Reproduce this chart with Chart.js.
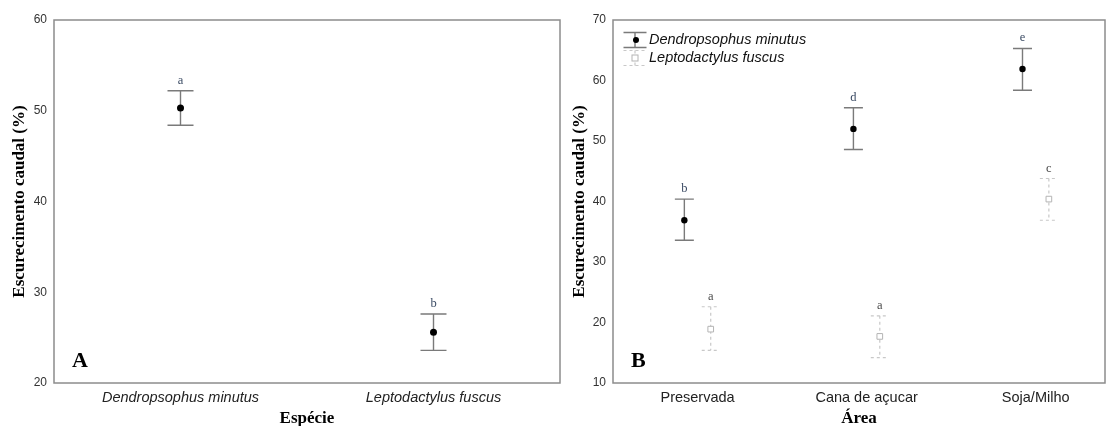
<!DOCTYPE html>
<html>
<head>
<meta charset="utf-8">
<script src="https://cdn.jsdelivr.net/npm/chart.js@4.4.1/dist/chart.umd.min.js"></script>
<style>
  html, body { margin: 0; padding: 0; background: #fff; }
  #wrap { position: relative; width: 1110px; height: 426px; overflow: hidden; }
  #chartA { position: absolute; left: 0; top: 0; }
  #chartB { position: absolute; left: 560px; top: 0; }
</style>
</head>
<body>
<div id="wrap">
  <canvas id="chartA" width="564" height="426"></canvas>
  <canvas id="chartB" width="550" height="426"></canvas>
</div>
<script>
const SANS = '"Liberation Sans", Arial, sans-serif';
const SERIF = '"Liberation Serif", "Times New Roman", serif';

// painel A - por espécie
const especies = ['Dendropsophus minutus', 'Leptodactylus fuscus'];
const especieMedia = [50.3, 25.6];
const especieSup = [52.2, 27.6];
const especieInf = [48.4, 23.6];
const especieLetras = ['a', 'b'];
const ticksA = [20, 30, 40, 50, 60];

// painel B - por área
const areas = ['Preservada', 'Cana de açucar', 'Soja/Milho'];
const minutusMedia = [36.9, 52.0, 61.9];
const minutusSup = [40.4, 55.5, 65.3];
const minutusInf = [33.6, 48.6, 58.4];
const minutusLetras = ['b', 'd', 'e'];
const fuscusMedia = [18.9, 17.7, 40.4];
const fuscusSup = [22.6, 21.1, 43.8];
const fuscusInf = [15.4, 14.2, 36.9];
const fuscusLetras = ['a', 'a', 'c'];
const ticksB = [10, 20, 30, 40, 50, 60, 70];

const DESLOC = 0.078; // deslocamento lateral das duas espécies no painel B

// barras de erro, letras, moldura e legenda
const barrasPlugin = {
  id: 'barras',
  beforeDatasetsDraw(chart) {
    const ctx = chart.ctx;
    const y = chart.scales.y;
    chart.data.datasets.forEach((ds, i) => {
      const meta = chart.getDatasetMeta(i);
      ctx.save();
      ctx.strokeStyle = ds.barColor;
      ctx.lineWidth = ds.barWidth;
      ctx.setLineDash(ds.barDash || []);
      meta.data.forEach((pt, j) => {
        const yTop = y.getPixelForValue(ds.upper[j]);
        const yBot = y.getPixelForValue(ds.lower[j]);
        ctx.beginPath();
        ctx.moveTo(pt.x, yTop); ctx.lineTo(pt.x, yBot);
        ctx.moveTo(pt.x - ds.cap, yTop); ctx.lineTo(pt.x + ds.cap, yTop);
        ctx.moveTo(pt.x - ds.cap, yBot); ctx.lineTo(pt.x + ds.cap, yBot);
        ctx.stroke();
      });
      ctx.restore();

      ctx.save();
      ctx.font = '12.5px ' + SERIF;
      ctx.fillStyle = ds.letterColor;
      ctx.textAlign = 'center';
      ctx.textBaseline = 'alphabetic';
      meta.data.forEach((pt, j) => {
        ctx.fillText(ds.letters[j], pt.x, y.getPixelForValue(ds.upper[j]) - 7);
      });
      ctx.restore();
    });
  },
  afterDraw(chart, args, opts) {
    const { ctx, chartArea: a } = chart;
    ctx.save();
    ctx.strokeStyle = '#8c8c8c';
    ctx.lineWidth = 1.5;
    ctx.strokeRect(a.left, a.top, a.right - a.left, a.bottom - a.top);

    ctx.font = 'bold 22px ' + SERIF;
    ctx.fillStyle = '#000';
    ctx.textBaseline = 'alphabetic';
    ctx.fillText(opts.panel, a.left + 18, a.bottom - 16);

    if (opts.legend) {
      chart.data.datasets.forEach((ds, i) => {
        const cx = a.left + 22;
        const cy = a.top + 20 + i * 18;
        ctx.save();
        ctx.strokeStyle = ds.barColor;
        ctx.lineWidth = ds.barWidth;
        ctx.setLineDash(ds.barDash || []);
        ctx.beginPath();
        ctx.moveTo(cx, cy - 7.5); ctx.lineTo(cx, cy + 7.5);
        ctx.moveTo(cx - 11.5, cy - 7.5); ctx.lineTo(cx + 11.5, cy - 7.5);
        ctx.moveTo(cx - 11.5, cy + 7.5); ctx.lineTo(cx + 11.5, cy + 7.5);
        ctx.stroke();
        ctx.setLineDash([]);
        if (ds.pointStyle === 'rect') {
          ctx.fillStyle = '#fff';
          ctx.strokeStyle = ds.borderColor;
          ctx.lineWidth = 1;
          ctx.fillRect(cx - 3, cy - 3, 6, 6);
          ctx.strokeRect(cx - 3, cy - 3, 6, 6);
        } else {
          ctx.fillStyle = ds.backgroundColor;
          ctx.beginPath();
          ctx.arc(cx + 1, cy, 3, 0, Math.PI * 2);
          ctx.fill();
        }
        ctx.restore();
        ctx.font = 'italic 14.5px ' + SANS;
        ctx.fillStyle = '#111';
        ctx.textBaseline = 'middle';
        ctx.fillText(ds.label, cx + 14, cy);
      });
    }
    ctx.restore();
  }
};

function eixoX(labels, max, titulo, italico) {
  return {
    type: 'linear',
    min: 0.5,
    max: max,
    afterBuildTicks: s => { s.ticks = labels.map((_, i) => ({ value: i + 1 })); },
    afterFit: s => { s.height = 43; },
    grid: { display: false, drawTicks: false },
    border: { display: false },
    ticks: {
      color: '#222',
      font: { family: SANS, size: 14.5, style: italico ? 'italic' : 'normal' },
      padding: 6,
      maxRotation: 0,
      autoSkip: false,
      callback: v => labels[Math.round(v) - 1]
    },
    title: {
      display: true,
      text: titulo,
      color: '#000',
      font: { family: SERIF, size: 17, weight: 'bold', lineHeight: 1 },
      padding: { top: 0, bottom: -1 }
    }
  };
}

function eixoY(ticks, largura) {
  return {
    type: 'linear',
    min: ticks[0],
    max: ticks[ticks.length - 1],
    afterBuildTicks: s => { s.ticks = ticks.map(v => ({ value: v })); },
    afterFit: s => { s.width = largura; },
    grid: { display: false, drawTicks: false },
    border: { display: false },
    ticks: { color: '#333', font: { family: SANS, size: 12 }, padding: 7 },
    title: {
      display: true,
      text: 'Escurecimento caudal (%)',
      color: '#000',
      font: { family: SERIF, size: 17, weight: 'bold', lineHeight: 1.2 },
      padding: { top: 9, bottom: 0 }
    }
  };
}

function serie(label, media, sup, inf, letras, desloc, estilo) {
  return Object.assign({
    label: label,
    data: media.map((m, i) => ({ x: i + 1 + desloc, y: m })),
    upper: sup,
    lower: inf,
    letters: letras
  }, estilo);
}

const estiloMinutus = {
  pointStyle: 'circle',
  backgroundColor: '#000',
  borderColor: '#000',
  borderWidth: 0,
  barColor: '#7a7a7a',
  barWidth: 1.4,
  letterColor: '#3a4a63'
};
const estiloFuscus = {
  pointStyle: 'rect',
  pointRadius: 4,
  backgroundColor: '#fff',
  borderColor: '#b4b4b4',
  borderWidth: 1,
  barColor: '#c8c8c8',
  barWidth: 1.2,
  barDash: [3, 3],
  cap: 9,
  letterColor: '#4a4a4a'
};

const comum = {
  responsive: false,
  animation: false,
  events: []
};

new Chart(document.getElementById('chartA'), {
  type: 'scatter',
  data: {
    datasets: [
      serie('Espécie', especieMedia, especieSup, especieInf, especieLetras, 0,
        Object.assign({}, estiloMinutus, { pointRadius: 3.5, cap: 13 }))
    ]
  },
  options: Object.assign({}, comum, {
    layout: { padding: { top: 20, right: 3, left: 0, bottom: 0 } },
    scales: {
      x: eixoX(especies, 2.5, 'Espécie', true),
      y: eixoY(ticksA, 54)
    },
    plugins: {
      legend: { display: false },
      tooltip: { enabled: false },
      barras: { panel: 'A', legend: false }
    }
  }),
  plugins: [barrasPlugin]
});

new Chart(document.getElementById('chartB'), {
  type: 'scatter',
  data: {
    datasets: [
      serie('Dendropsophus minutus', minutusMedia, minutusSup, minutusInf, minutusLetras, -DESLOC,
        Object.assign({}, estiloMinutus, { pointRadius: 3.2, cap: 9.5 })),
      serie('Leptodactylus fuscus', fuscusMedia, fuscusSup, fuscusInf, fuscusLetras, DESLOC, estiloFuscus)
    ]
  },
  options: Object.assign({}, comum, {
    layout: { padding: { top: 20, right: 2, left: 0, bottom: 0 } },
    scales: {
      x: eixoX(areas, 3.41, 'Área', false),
      y: eixoY(ticksB, 53)
    },
    plugins: {
      legend: { display: false },
      tooltip: { enabled: false },
      barras: { panel: 'B', legend: true }
    }
  }),
  plugins: [barrasPlugin]
});
</script>
</body>
</html>
